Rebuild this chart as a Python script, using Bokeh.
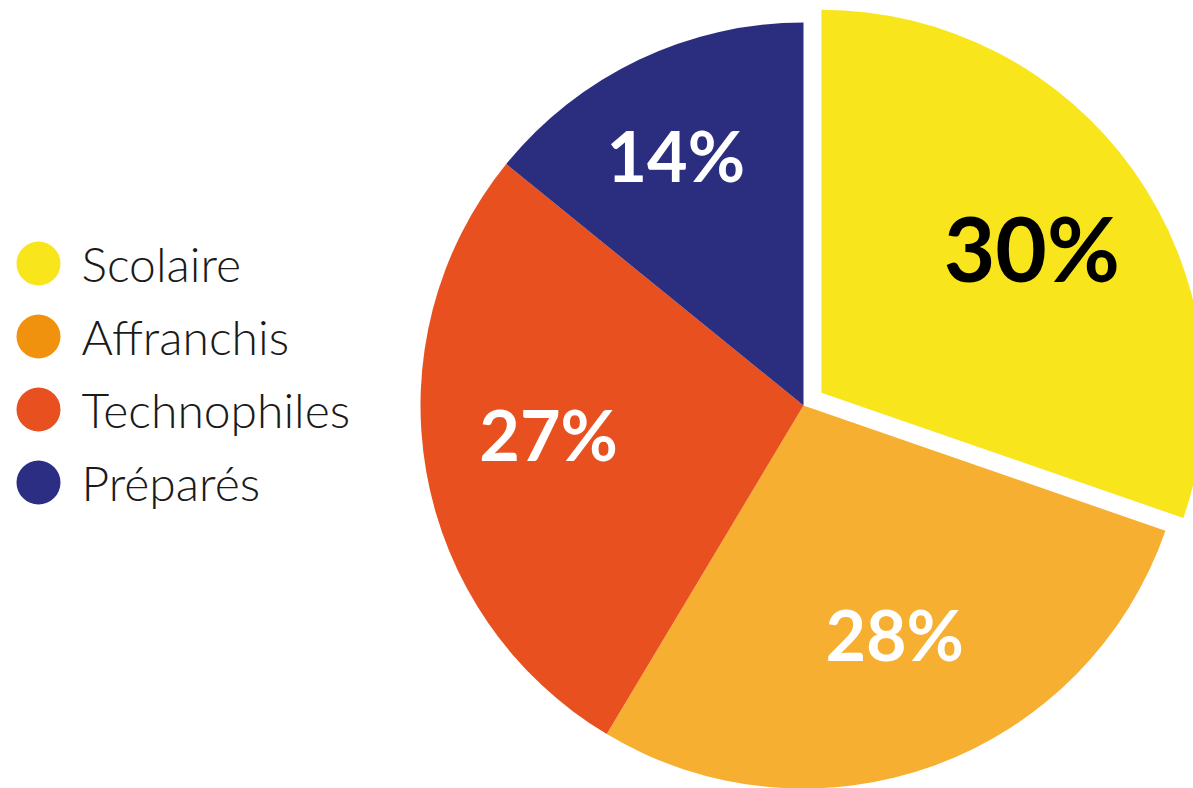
import math
from bokeh.plotting import figure
from bokeh.models import ColumnDataSource, Range1d
from bokeh.core.properties import value
from bokeh.embed import file_html
from bokeh.resources import INLINE

# ---- data ----
categories = ["Scolaire", "Affranchis", "Technophiles", "Préparés"]
percent = [30, 28, 27, 14]
labels = ["30%", "28%", "27%", "14%"]
slice_colors = ["#F9E51C", "#F7AF31", "#E8501F", "#2B2E7F"]
legend_colors = ["#F9E51C", "#F1920F", "#E8501F", "#2B2E82"]
label_colors = ["#000000", "#FFFFFF", "#FFFFFF", "#FFFFFF"]

# ---- layout ----
W, H = 1193, 788
CX, CY, R = 803, 383, 383
explode = [22, 0, 0, 0]
label_r = [253, 251, 257, 277]
label_dtheta = [-1.7, 1.3, -2.6, 2.0]
label_lift = 5
label_size = ["89px", "70px", "70px", "70px"]

total = float(sum(percent))
starts, ends, xs, ys, lx, ly = [], [], [], [], [], []
cum = 0.0
for i, v in enumerate(percent):
    a0 = 90.0 - (cum + v) / total * 360.0
    a1 = 90.0 - cum / total * 360.0
    cum += v
    mid = math.radians((a0 + a1) / 2.0)
    cx = CX + explode[i] * math.cos(mid)
    cy = CY + explode[i] * math.sin(mid)
    starts.append(a0)
    ends.append(a1)
    xs.append(cx)
    ys.append(cy)
    lm = mid + math.radians(label_dtheta[i])
    lx.append(cx + label_r[i] * math.cos(lm))
    ly.append(cy + label_r[i] * math.sin(lm) + label_lift)

src = ColumnDataSource(dict(x=xs, y=ys, start=starts, end=ends, color=slice_colors,
                            lx=lx, ly=ly, label=labels, lcolor=label_colors,
                            lsize=label_size, cat=categories))

p = figure(width=W, height=H, output_backend="svg", toolbar_location=None,
           x_range=Range1d(0, W), y_range=Range1d(0, H), min_border=0,
           outline_line_color=None, background_fill_color="white")
p.axis.visible = False
p.grid.visible = False

p.wedge(x="x", y="y", radius=R, start_angle="start", end_angle="end",
        start_angle_units="deg", end_angle_units="deg", direction="anticlock",
        fill_color="color", line_color=None, source=src)

p.text(x="lx", y="ly", text="label", text_color="lcolor", text_font=value("Lato"),
       text_font_style="bold", text_font_size="lsize", text_align="center",
       text_baseline="middle", source=src)

# legend
leg_x = 38
leg_y0, leg_step = H - 263, 73
leg_y = [leg_y0 - i * leg_step for i in range(len(categories))]
leg_src = ColumnDataSource(dict(x=[leg_x] * len(categories), tx=[leg_x + 43] * len(categories),
                                y=leg_y, color=legend_colors, cat=categories))
p.scatter(x="x", y="y", size=44, marker="circle", fill_color="color", line_color=None,
          source=leg_src)
p.text(x="tx", y="y", text="cat", text_color="#1A1A1A", text_font=value("Lato Light"),
       text_font_size="48px", text_align="left", text_baseline="middle", source=leg_src)

open("out.html", "w").write(file_html(p, INLINE))
